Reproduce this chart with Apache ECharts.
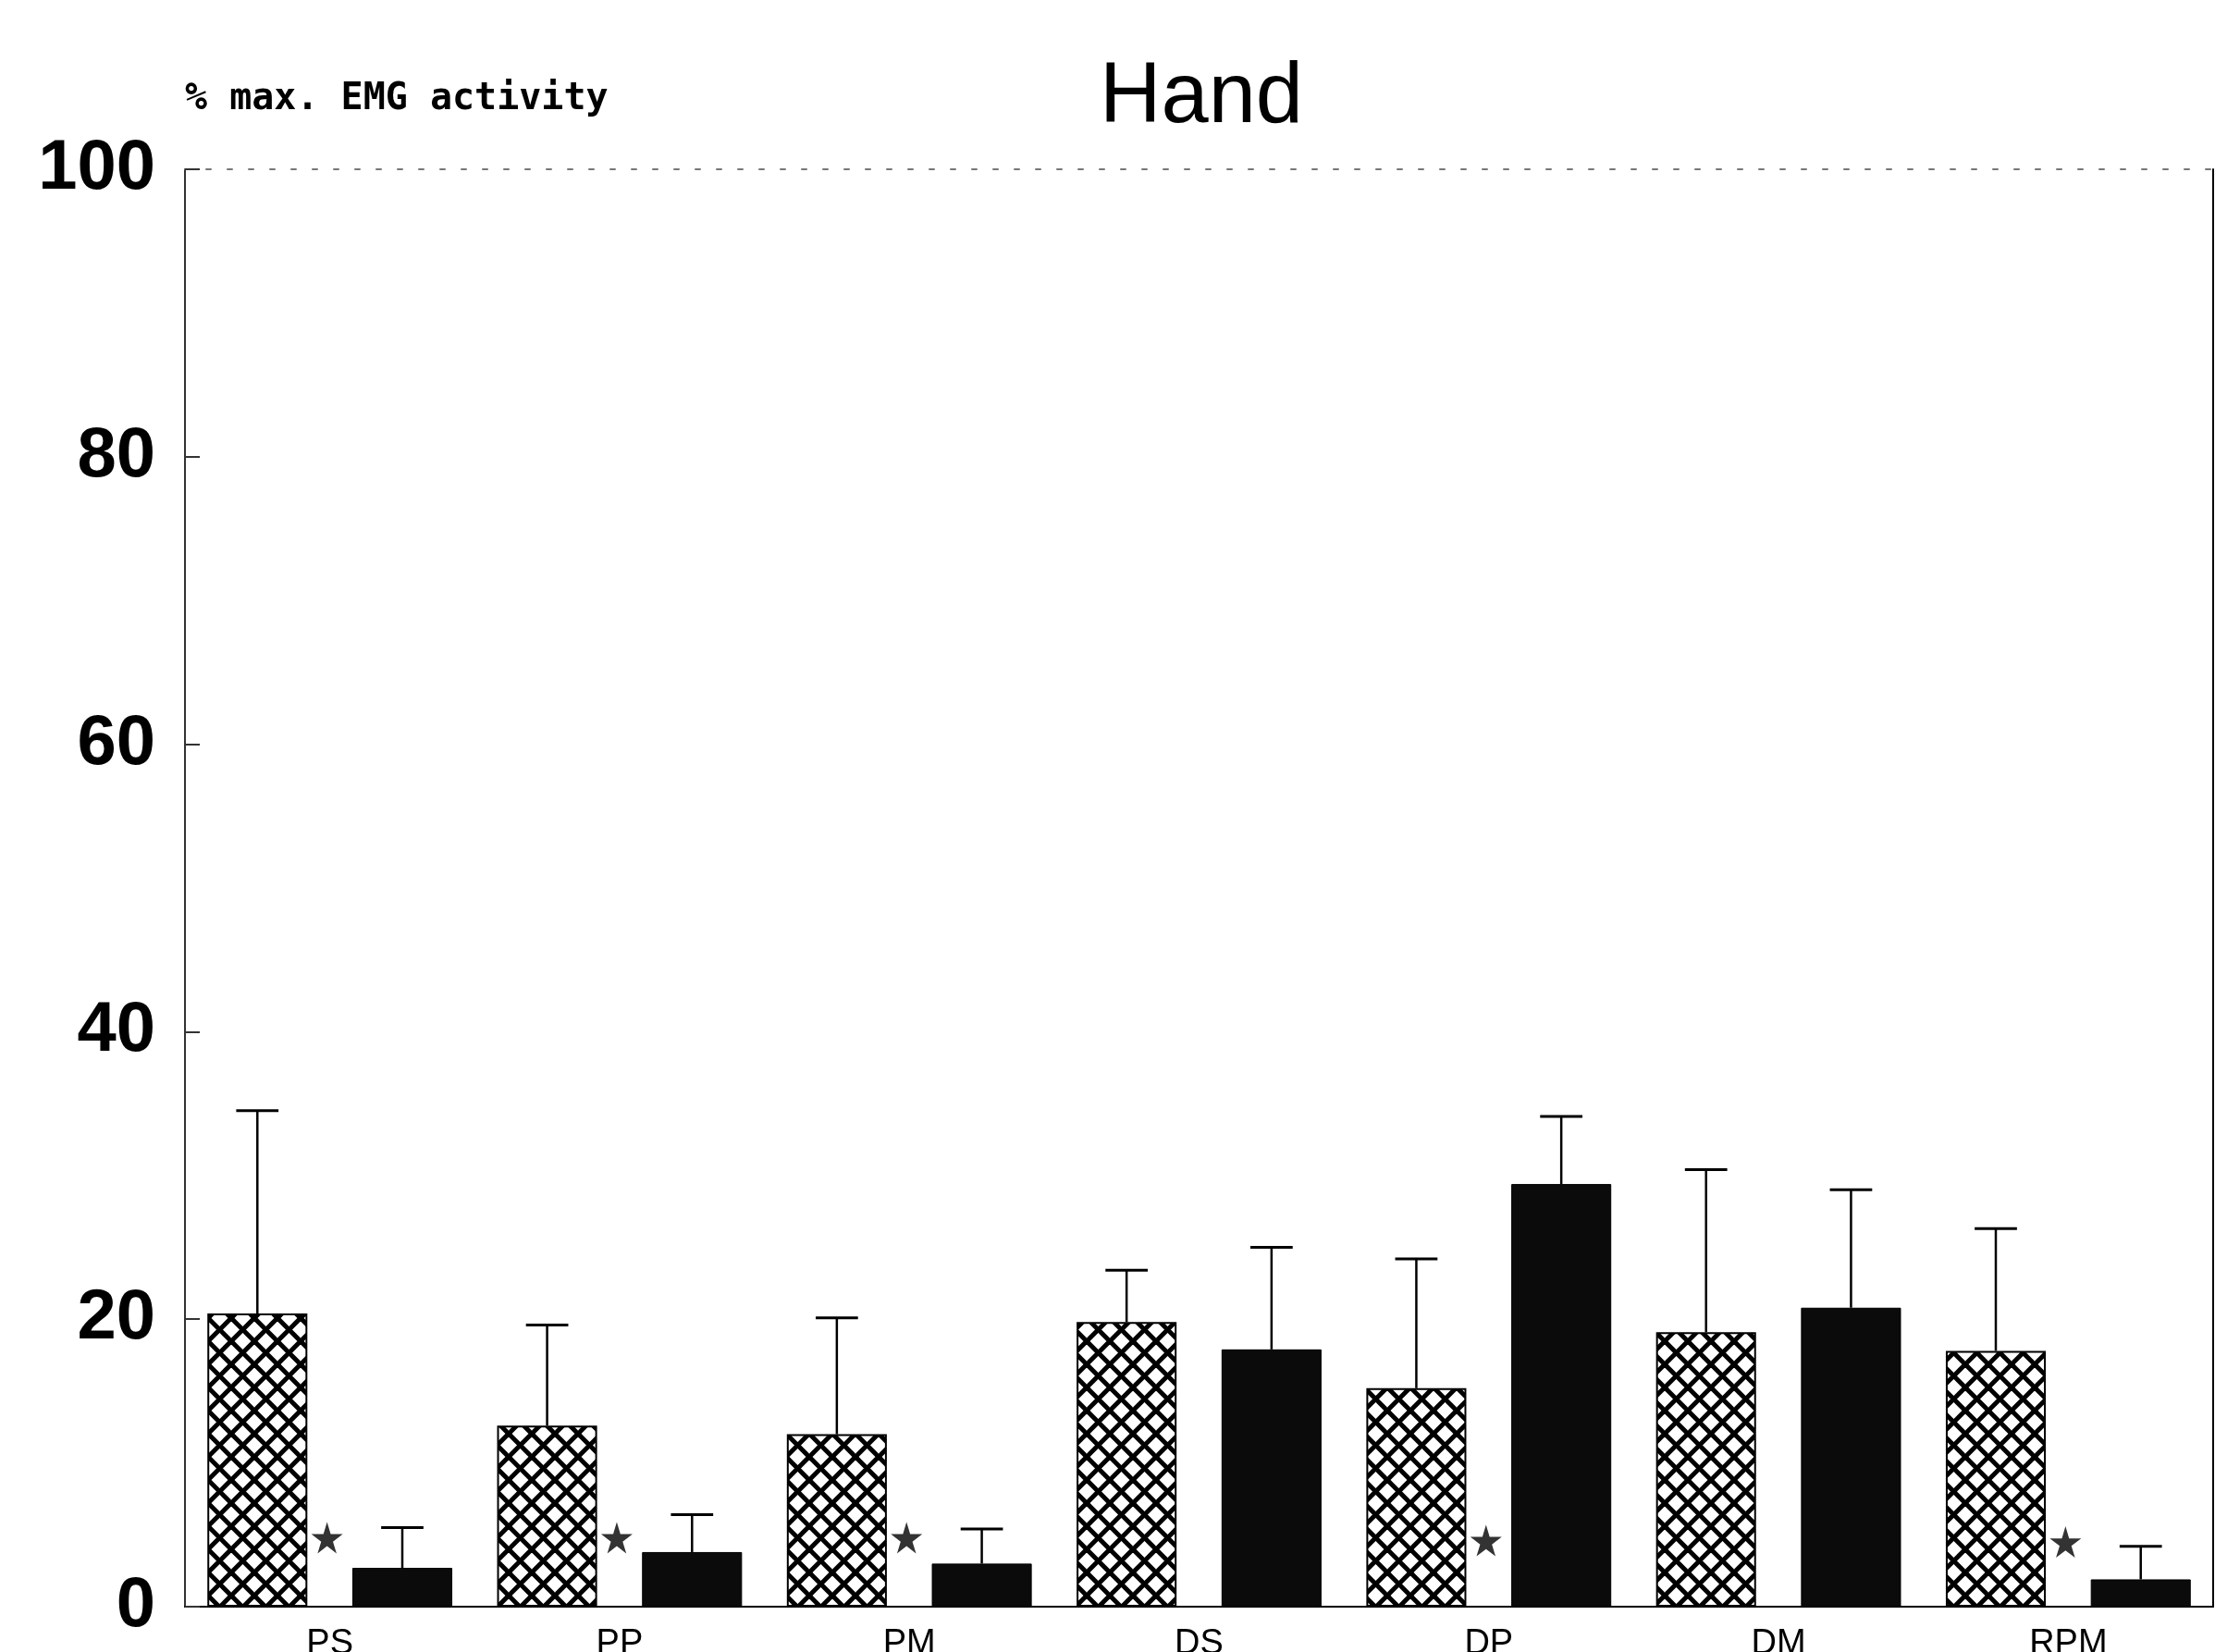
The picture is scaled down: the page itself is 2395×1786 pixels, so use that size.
<!DOCTYPE html>
<html>
<head>
<meta charset="utf-8">
<style>
  html, body { margin: 0; padding: 0; background: #fff; }
  #chart { width: 2395px; height: 1786px; }
</style>
<script src="https://cdn.jsdelivr.net/npm/echarts@6/dist/echarts.min.js"></script>
</head>
<body>
<div id="chart"></div>
<script>
const categories = ['PS', 'PP', 'PM', 'DS', 'DP', 'DM', 'RPM'];
const hatchedValues = [20.4, 12.6, 12.0, 19.8, 15.2, 19.1, 17.8];
const hatchedErrorTops = [34.5, 19.6, 20.1, 23.4, 24.2, 30.4, 26.3];
const solidValues = [2.7, 3.8, 3.0, 17.9, 29.4, 20.8, 1.9];
const solidErrorTops = [5.5, 6.4, 5.4, 25.0, 34.1, 29.0, 4.2];
const starValues = [4.8, 4.8, 4.8, null, 4.6, null, 4.5];
const yTickValues = [0, 20, 40, 60, 80, 100];
const titleText = 'Hand';
const yAxisTitle = '% max. EMG activity';

function makeHatch() {
  const s = 25;
  const c = document.createElement('canvas');
  c.width = s; c.height = s;
  const g = c.getContext('2d');
  g.fillStyle = '#ffffff';
  g.fillRect(0, 0, s, s);
  g.strokeStyle = '#000000';
  g.lineWidth = 5;
  for (let k = -1; k <= 1; k++) {
    g.beginPath();
    g.moveTo(k * s, 0); g.lineTo(k * s + s, s);
    g.stroke();
    g.beginPath();
    g.moveTo(k * s + s, 0); g.lineTo(k * s, s);
    g.stroke();
  }
  return c;
}

const BAR_W = 0.345;   // fraction of category band
const BAR_GAP = 0.45;  // fraction of bar width
const groupOffset = BAR_W * (1 + BAR_GAP) / 2;

function errorSeries(tops, bases, side) {
  return {
    type: 'custom',
    xAxisIndex: 0, yAxisIndex: 0,
    z: 5,
    silent: true,
    data: tops.map((t, i) => [i, bases[i], t]),
    renderItem: function (params, api) {
      const idx = api.value(0);
      const band = api.size([1, 0])[0];
      const base = api.coord([idx, api.value(1)]);
      const top = api.coord([idx, api.value(2)]);
      const x = base[0] + side * band * groupOffset;
      const half = band * 0.073;
      return {
        type: 'group',
        children: [
          { type: 'line', shape: { x1: x, y1: base[1], x2: x, y2: top[1] },
            style: { stroke: '#000', lineWidth: 2.5 } },
          { type: 'line', shape: { x1: x - half, y1: top[1], x2: x + half, y2: top[1] },
            style: { stroke: '#000', lineWidth: 3 } }
        ]
      };
    }
  };
}

const chart = echarts.init(document.getElementById('chart'), null, { renderer: 'canvas' });

const starPath = 'path://M50,0 L61,35 L98,35 L68,57 L79,91 L50,70 L21,91 L32,57 L2,35 L39,35 Z';

const option = {
  backgroundColor: '#ffffff',
  animation: false,
  grid: { left: 200, right: 2, top: 183, bottom: 49, outerBoundsMode: 'none', containLabel: false },
  graphic: [
    { type: 'text', x: 1299, y: 61,
      style: { text: titleText, font: '92px "Liberation Sans", Arial, sans-serif', fill: '#000', align: 'center', verticalAlign: 'top' } },
    { type: 'text', x: 200, y: 88,
      style: { text: yAxisTitle, font: 'bold 40px "DejaVu Sans Mono", monospace', fill: '#000', align: 'left', verticalAlign: 'top' } }
  ],
  xAxis: [
    {
      type: 'category', data: categories, position: 'bottom',
      axisLine: { show: true, onZero: false, lineStyle: { color: '#000', width: 2 } },
      axisTick: { show: false },
      axisLabel: { fontSize: 38, color: '#000', margin: 22, fontFamily: '"Liberation Sans", Arial, sans-serif' },
      splitLine: { show: false }
    },
    {
      type: 'category', data: categories, position: 'top',
      axisLine: { show: true, onZero: false, lineStyle: { color: '#777', width: 2, type: [5, 18] } },
      axisTick: { show: false }, axisLabel: { show: false }, splitLine: { show: false }
    }
  ],
  yAxis: [
    {
      type: 'value', min: yTickValues[0], max: yTickValues[yTickValues.length - 1], interval: 20,
      position: 'left',
      axisLine: { show: true, onZero: false, lineStyle: { color: '#333', width: 2 } },
      axisTick: { show: true, inside: true, length: 16, lineStyle: { color: '#333', width: 2 } },
      axisLabel: { fontSize: 76, fontWeight: 'bold', color: '#000', margin: 32, fontFamily: '"Liberation Sans", Arial, sans-serif' },
      splitLine: { show: false }
    },
    {
      type: 'value', min: 0, max: 100, interval: 20, position: 'right',
      axisLine: { show: true, onZero: false, lineStyle: { color: '#000', width: 2 } },
      axisTick: { show: false }, axisLabel: { show: false }, splitLine: { show: false }
    }
  ],
  series: [
    {
      type: 'bar', data: hatchedValues,
      barWidth: (BAR_W * 100) + '%', barGap: (BAR_GAP * 100) + '%',
      itemStyle: { color: { image: makeHatch(), repeat: 'repeat' }, borderColor: '#000', borderWidth: 2 },
      z: 2
    },
    {
      type: 'bar', data: solidValues,
      barWidth: (BAR_W * 100) + '%', barGap: (BAR_GAP * 100) + '%',
      itemStyle: { color: '#0b0b0b', borderColor: '#000', borderWidth: 1 },
      z: 2
    },
    errorSeries(hatchedErrorTops, hatchedValues, -1),
    errorSeries(solidErrorTops, solidValues, 1),
    {
      type: 'scatter', data: starValues, symbol: starPath, symbolSize: 34,
      symbolOffset: [-3, 0],
      itemStyle: { color: '#000' }, z: 6, silent: true
    }
  ]
};
chart.setOption(option);
</script>
</body>
</html>
